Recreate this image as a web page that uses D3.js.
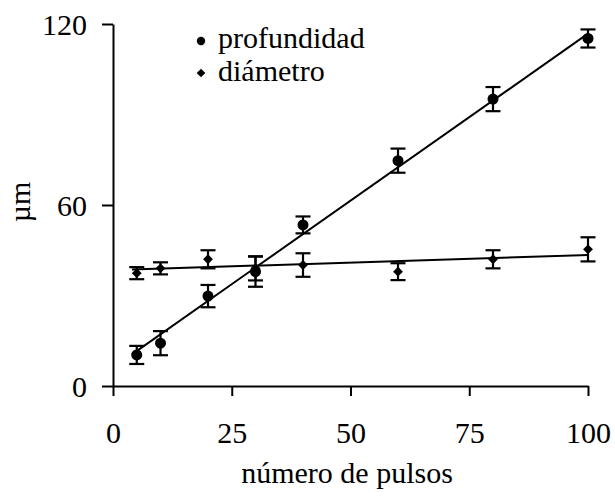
<!DOCTYPE html>
<html>
<head>
<meta charset="utf-8">
<script src="https://cdn.jsdelivr.net/npm/d3@7"></script>
<style>
    body { margin: 0; background: #fff; }
    svg { display: block; }
    text { font-family: "Liberation Serif", "Times New Roman", serif; fill: #000; }
</style>
</head>
<body>
<div id="chart"></div>
<script>
// Data
const pulsos = [5, 10, 20, 30, 40, 60, 80, 100];
const profundidad = [10.3, 14.2, 29.8, 37.9, 53.4, 74.7, 95.1, 115.2];
const profundidadErr = [3, 4, 3.7, 5, 2.8, 4, 4, 3];
const diametro = [37.4, 39, 42, 39, 40.1, 37.9, 42, 45.3];
const diametroErr = [2, 2, 3, 4, 3.9, 2.8, 3, 4];

// fitted lines, endpoints
const fitX = [4, 100];
const profundidadFit = [10.5, 116.8];
const diametroFit = [38.6, 43.4];

const xTicks = [0, 25, 50, 75, 100];
const yTicks = [0, 60, 120];

function draw() {
    let dimensions = {
        width: 615,
        height: 497,
        margin: { top: 24, bottom: 111, left: 113, right: 27 }
    };
    dimensions.ctrWidth = dimensions.width - dimensions.margin.left - dimensions.margin.right;
    dimensions.ctrHeight = dimensions.height - dimensions.margin.top - dimensions.margin.bottom;

    // Scales
    const xScale = d3.scaleLinear()
        .domain([0, 100])
        .range([0, dimensions.ctrWidth]);

    const yScale = d3.scaleLinear()
        .domain([0, 120])
        .range([dimensions.ctrHeight, 0]);

    const svg = d3.select('#chart')
        .append('svg')
        .attr('width', dimensions.width)
        .attr('height', dimensions.height);

    const ctr = svg.append('g')
        .attr('transform', `translate(${dimensions.margin.left},${dimensions.margin.top})`);

    // Axes
    const xAxisGroup = ctr.append('g')
        .attr('transform', `translate(0,${dimensions.ctrHeight})`)
        .call(d3.axisBottom(xScale)
            .tickValues(xTicks)
            .tickSize(10)
            .tickSizeOuter(0)
            .tickPadding(26));

    const yAxisGroup = ctr.append('g')
        .call(d3.axisLeft(yScale)
            .tickValues(yTicks)
            .tickSize(11)
            .tickSizeOuter(0)
            .tickPadding(15));

    [xAxisGroup, yAxisGroup].forEach(g => {
        g.selectAll('path, line').attr('stroke', '#000').attr('stroke-width', 2);
        g.selectAll('text')
            .style('font-family', '"Liberation Serif", serif')
            .style('font-size', '30px')
            .attr('fill', '#000');
    });
    yAxisGroup.selectAll('text').attr('dy', '0.36em');

    // Axis titles
    svg.append('text')
        .attr('x', 347)
        .attr('y', 483)
        .attr('text-anchor', 'middle')
        .style('font-size', '30px')
        .text('número de pulsos');

    svg.append('text')
        .attr('transform', 'translate(30,202) rotate(-90)')
        .attr('text-anchor', 'middle')
        .style('font-size', '30px')
        .text('µm');

    // Fit lines
    const line = d3.line()
        .x(d => xScale(d[0]))
        .y(d => yScale(d[1]));

    [profundidadFit, diametroFit].forEach(fit => {
        ctr.append('path')
            .datum(d3.zip(fitX, fit))
            .attr('d', line)
            .attr('fill', 'none')
            .attr('stroke', '#000')
            .attr('stroke-width', 2);
    });

    // Error bars
    const cap = 7.5;
    const drawErrors = (values, errs) => {
        const g = ctr.append('g')
            .attr('stroke', '#000')
            .attr('stroke-width', 2.2);
        const rows = pulsos.map((p, i) => ({ x: p, y: values[i], e: errs[i] }));
        g.selectAll('line.v')
            .data(rows)
            .join('line')
            .attr('x1', d => xScale(d.x))
            .attr('x2', d => xScale(d.x))
            .attr('y1', d => yScale(d.y - d.e))
            .attr('y2', d => yScale(d.y + d.e));
        g.selectAll('line.top')
            .data(rows)
            .join('line')
            .attr('class', 'top')
            .attr('x1', d => xScale(d.x) - cap)
            .attr('x2', d => xScale(d.x) + cap)
            .attr('y1', d => yScale(d.y + d.e))
            .attr('y2', d => yScale(d.y + d.e));
        g.selectAll('line.bot')
            .data(rows)
            .join('line')
            .attr('class', 'bot')
            .attr('x1', d => xScale(d.x) - cap)
            .attr('x2', d => xScale(d.x) + cap)
            .attr('y1', d => yScale(d.y - d.e))
            .attr('y2', d => yScale(d.y - d.e));
    };
    drawErrors(diametro, diametroErr);
    drawErrors(profundidad, profundidadErr);

    // Markers
    const diamond = d3.symbol().type(d3.symbolDiamond2).size(62);

    ctr.append('g')
        .selectAll('path')
        .data(pulsos)
        .join('path')
        .attr('d', diamond)
        .attr('transform', (d, i) => `translate(${xScale(d)},${yScale(diametro[i])})`)
        .attr('fill', '#000');

    ctr.append('g')
        .selectAll('circle')
        .data(pulsos)
        .join('circle')
        .attr('cx', d => xScale(d))
        .attr('cy', (d, i) => yScale(profundidad[i]))
        .attr('r', 5.5)
        .attr('fill', '#000');

    // Legend
    const legend = svg.append('g');
    legend.append('circle')
        .attr('cx', 201)
        .attr('cy', 41)
        .attr('r', 4.2)
        .attr('fill', '#000');
    legend.append('path')
        .attr('d', d3.symbol().type(d3.symbolDiamond2).size(48))
        .attr('transform', 'translate(201,73)')
        .attr('fill', '#000');
    legend.append('text')
        .attr('x', 218)
        .attr('y', 48)
        .style('font-size', '30px')
        .text('profundidad');
    legend.append('text')
        .attr('x', 218)
        .attr('y', 81)
        .style('font-size', '30px')
        .text('diámetro');
}

draw();
</script>
</body>
</html>
